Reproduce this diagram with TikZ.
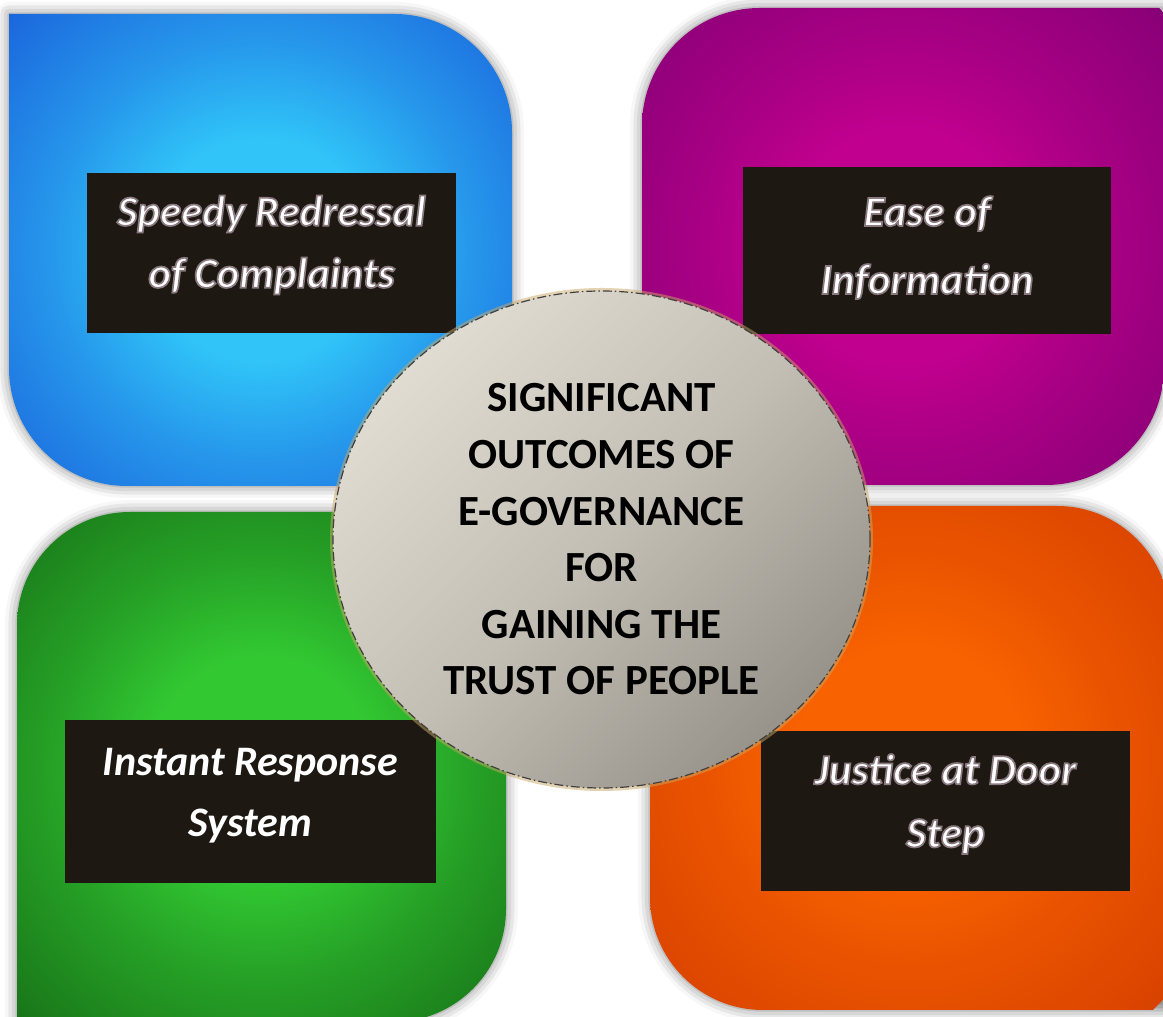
\documentclass[tikz,border=0pt]{standalone}
\usepackage{fontspec}
\setmainfont{Carlito}
\usetikzlibrary{shapes.geometric,shadows.blur}
\definecolor{blueC}{HTML}{30C4F8}
\definecolor{blueE}{HTML}{1C6ADE}
\definecolor{blueK}{HTML}{0A16C8}
\definecolor{purpC}{HTML}{C2008F}
\definecolor{purpE}{HTML}{8C0078}
\definecolor{purpK}{HTML}{560060}
\definecolor{greenC}{HTML}{32C832}
\definecolor{greenE}{HTML}{1A7A1A}
\definecolor{greenK}{HTML}{033803}
\definecolor{orngC}{HTML}{F86200}
\definecolor{orngE}{HTML}{DA4400}
\definecolor{orngK}{HTML}{C62E00}
\definecolor{cardbg}{HTML}{1D1912}
\definecolor{hubL}{HTML}{E0DCD2}
\definecolor{hubD}{HTML}{98938A}
\definecolor{hubline}{HTML}{404040}
\definecolor{hubglow}{HTML}{C9A866}
\pgfdeclareradialshading{bluetile}{\pgfpoint{0bp}{0bp}}{color(0bp)=(blueC); color(8bp)=(blueC); color(15bp)=(blueC!50!blueE); color(24bp)=(blueE); color(33bp)=(blueK); color(50bp)=(blueK)}
\pgfdeclareradialshading{purptile}{\pgfpoint{0bp}{0bp}}{color(0bp)=(purpC); color(8bp)=(purpC); color(15bp)=(purpC!50!purpE); color(24bp)=(purpE); color(33bp)=(purpK); color(50bp)=(purpK)}
\pgfdeclareradialshading{greentile}{\pgfpoint{0bp}{0bp}}{color(0bp)=(greenC); color(8bp)=(greenC); color(15bp)=(greenC!50!greenE); color(24bp)=(greenE); color(33bp)=(greenK); color(50bp)=(greenK)}
\pgfdeclareradialshading{orngtile}{\pgfpoint{0bp}{0bp}}{color(0bp)=(orngC); color(8bp)=(orngC); color(15bp)=(orngC!50!orngE); color(24bp)=(orngE); color(33bp)=(orngK); color(50bp)=(orngK)}
\tikzset{
    egov/.style={
        tile/.append style={blur shadow={shadow xshift=0pt,shadow yshift=0pt,shadow blur radius=12pt,shadow opacity=50}},
        card/.append style={fill=cardbg,inner sep=0pt},
        caption/.append style={inner sep=0pt,text=white,align=center,font=\fontsize{43}{62}\selectfont\bfseries\itshape},
        hub/.append style={ellipse,draw=hubline,line width=1.2pt,dash pattern=on 9pt off 3pt on 1.5pt off 3pt,
            top color=hubL,bottom color=hubD,middle color=hubL!60!hubD,shading angle=45,
            minimum width=537pt,minimum height=497pt,inner sep=0pt,align=center,
            font=\fontsize{43}{56.6}\selectfont\bfseries,
            preaction={draw=hubglow,solid,line width=6pt,opacity=.5}}
    },
    tileglow/.style={path picture={\shade[shading=#1] (path picture bounding box.center) circle[radius=350pt];}}
}
\newcommand{\outl}[1]{\special{pdf:literal direct 0.54 0.48 0.50 RG 1.7 w 2 Tr}#1\special{pdf:literal direct 0 Tr}}

\begin{document}
\begin{tikzpicture}[egov,x=1pt,y=1pt]
    \useasboundingbox (0,0) rectangle (1163,1017);
    \clip (0,0) rectangle (1163,1017);
    % tiles
    \path[tile,tileglow=bluetile] (9,1003) -- (394,1003) arc[start angle=90,end angle=0,radius=118] -- (512,531) -- (127,531) arc[start angle=270,end angle=180,radius=118] -- cycle;
    \path[tile,tileglow=purptile] (642,891) arc[start angle=180,end angle=90,radius=118] -- (1164,1009) -- (1164,650) arc[start angle=0,end angle=-90,radius=118] -- (642,532) -- cycle;
    \path[tile,tileglow=greentile] (17,392) arc[start angle=180,end angle=90,radius=113] -- (506,505) -- (506,108) arc[start angle=0,end angle=-90,radius=113] -- (17,-5) -- cycle;
    \path[tile,tileglow=orngtile] (650,511) -- (1057,511) arc[start angle=90,end angle=0,radius=113] -- (1170,7) -- (763,7) arc[start angle=270,end angle=180,radius=113] -- cycle;
    % captions
    \node[card,minimum width=369pt,minimum height=160pt] (sr) at (271.5,764) {};
    \node[caption] (srt) at ([yshift=8pt]sr.center) {\outl{Speedy Redressal}\\\outl{of Complaints}};
    \node[card,minimum width=368pt,minimum height=167pt] (ei) at (927,766.5) {};
    \node[caption,font=\fontsize{43}{68}\selectfont\bfseries\itshape] (eit) at ([yshift=3pt]ei.center) {\outl{Ease of}\\\outl{Information}};
    \node[card,minimum width=371pt,minimum height=163pt] (ir) at (250.5,215.5) {};
    \node[caption,font=\fontsize{42}{61}\selectfont\bfseries\itshape] (irt) at ([yshift=6pt]ir.center) {Instant Response\\System};
    \node[card,minimum width=369pt,minimum height=160pt] (jd) at (945.5,206) {};
    \node[caption,font=\fontsize{43}{63}\selectfont\bfseries\itshape] (jdt) at ([yshift=7pt]jd.center) {\outl{Justice at Door}\\\outl{Step}};
    % centre
    \node[hub] (sig) at (601.5,477.5) {SIGNIFICANT\\OUTCOMES OF\\E-GOVERNANCE\\FOR\\GAINING THE\\TRUST OF PEOPLE};
\end{tikzpicture}
\end{document}
